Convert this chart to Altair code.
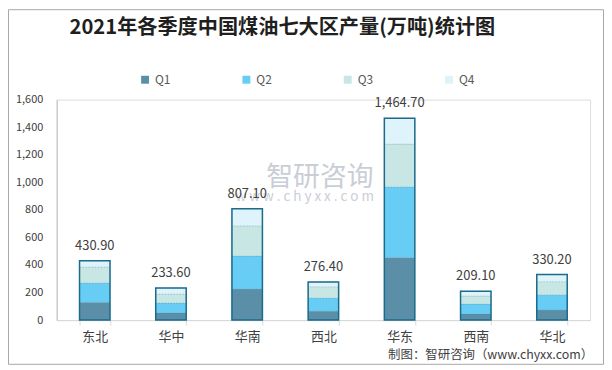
import altair as alt
import pandas as pd

regions = ["东北", "华中", "华南", "西北", "华东", "西南", "华北"]
quarters = ["Q1", "Q2", "Q3", "Q4"]
q1 = [129, 51, 225, 65, 455, 44, 73]
q2 = [140, 73, 240, 95, 512, 72, 111]
q3 = [116, 65, 219, 82, 310, 59, 95]
q4 = [45.9, 44.6, 123.1, 34.4, 187.7, 34.1, 51.2]
totals = [430.90, 233.60, 807.10, 276.40, 1464.70, 209.10, 330.20]
colors = ["#5b8fa7", "#68cdf5", "#c8e7e4", "#dff3fa"]
y_ticks = [0, 200, 400, 600, 800, 1000, 1200, 1400, 1600]
title_text = "2021年各季度中国煤油七大区产量(万吨)统计图"
source_text = "制图：智研咨询（www.chyxx.com）"

rows = []
for i, r in enumerate(regions):
    for j, (q, vals) in enumerate(zip(quarters, [q1, q2, q3, q4])):
        rows.append({"region": r, "quarter": q, "qi": j, "value": vals[i]})
df = pd.DataFrame(rows)
tot = pd.DataFrame({"region": regions, "total": totals})

W, H = 537, 222
FONT = "Noto Sans CJK SC"

xaxis = alt.Axis(labelAngle=0, labelFont=FONT, labelFontSize=13,
                 labelColor="#404040", domainColor="#d9d9d9",
                 tickColor="#d9d9d9", tickSize=5, tickBand="extent",
                 labelPadding=6, title=None)
yaxis = alt.Axis(values=y_ticks, format=",.0f", grid=False,
                 ticks=False, labelOverlap=False,
                 domainColor="#bfbfbf", labelFont=FONT,
                 labelFontSize=11, labelColor="#404040",
                 labelPadding=14, title=None)
xscale = alt.Scale(paddingInner=0.6, paddingOuter=0.3)
yscale = alt.Scale(domain=[0, 1600], nice=False)


def xenc():
    return alt.X("region:N", sort=regions, scale=xscale, axis=xaxis)


def yenc(field, **kw):
    return alt.Y(field, scale=yscale, axis=yaxis, **kw)


bars = alt.Chart(df).mark_bar(stroke="#4d7f96", strokeWidth=0.6,
                              strokeDash=[1.5, 1.5], strokeOpacity=0.5).encode(
    x=xenc(),
    y=yenc("value:Q", stack="zero"),
    color=alt.Color("quarter:N", sort=quarters,
                    scale=alt.Scale(domain=quarters, range=colors),
                    legend=alt.Legend(title=None, orient="none", direction="horizontal",
                                      legendX=83, legendY=-26, symbolType="square",
                                      symbolSize=64, symbolStrokeWidth=0,
                                      labelFont=FONT, labelFontSize=12,
                                      labelColor="#595959", columnPadding=70,
                                      labelOffset=4)),
    order=alt.Order("qi:Q", sort="ascending"),
)

outline = alt.Chart(tot).mark_bar(fill=None, stroke="#1b6b8c", strokeWidth=1.5).encode(
    x=xenc(),
    y=yenc("total:Q"),
)

labels = alt.Chart(tot).mark_text(font=FONT, fontSize=13, color="#404040",
                                  baseline="bottom", dy=-8).encode(
    x=xenc(),
    y=yenc("total:Q"),
    text=alt.Text("total:Q", format=",.2f"),
)

wm1 = alt.Chart(pd.DataFrame({"t": ["智研咨询"]})).mark_text(
    font=FONT, fontSize=27, color="#c9ced6", align="left", baseline="middle"
).encode(x=alt.value(211), y=alt.value(79), text="t:N")
wm2 = alt.Chart(pd.DataFrame({"t": ["w w w . c h y x x . c o m"]})).mark_text(
    font=FONT, fontSize=13.5, color="#c9ced6", align="left", baseline="middle"
).encode(x=alt.value(180), y=alt.value(98), text="t:N")

title = alt.Chart(pd.DataFrame({"t": [title_text]})).mark_text(
    font=FONT, fontSize=20.3, fontWeight="bold", color="#1f1f1f",
    align="left", baseline="middle"
).encode(x=alt.value(13), y=alt.value(-72), text="t:N")

source = alt.Chart(pd.DataFrame({"t": [source_text]})).mark_text(
    font=FONT, fontSize=12.5, color="#404040", align="right", baseline="middle"
).encode(x=alt.value(540), y=alt.value(257), text="t:N")

frame = alt.Chart(pd.DataFrame({"a": [0]})).mark_rect(
    fill=None, stroke="#a6a6a6", strokeWidth=1
).encode(x=alt.value(-48.5), x2=alt.value(550.5), y=alt.value(-90.5), y2=alt.value(266.5))

chart = alt.layer(frame, wm1, wm2, bars, outline, labels, title, source).properties(
    width=W, height=H,
    autosize=alt.AutoSizeParams(type="none"),
    padding={"left": 49, "top": 91, "right": 14, "bottom": 45},
).configure_view(stroke=None).configure(background="white")

chart.save("out.html", embed_options={"renderer": "svg", "actions": False})
